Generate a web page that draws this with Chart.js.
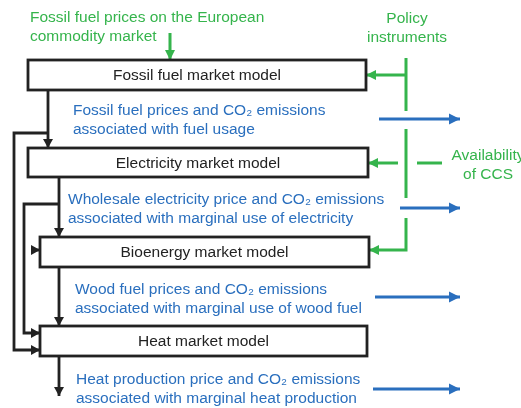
<!DOCTYPE html>
<html>
<head>
<meta charset="utf-8">
<script src="https://cdn.jsdelivr.net/npm/chart.js@4"></script>
<style>
  html, body { margin: 0; padding: 0; background: #fff; }
  #wrap { width: 521px; height: 408px; }
</style>
</head>
<body>
<div id="wrap"><canvas id="flow" width="521" height="408"></canvas></div>
<script>
// model boxes (diagram units = pixels of the original figure)
const boxLabels = ['Fossil fuel market model', 'Electricity market model', 'Bioenergy market model', 'Heat market model'];
const boxLeft = [28, 28, 40, 40];
const boxRight = [366, 368, 369, 367];
const boxTop = [60, 148, 237, 326];
const boxBottom = [90, 177, 267, 356];

// blue output texts and arrows
const flowLines1 = ['Fossil fuel prices and CO₂ emissions', 'Wholesale electricity price and CO₂ emissions', 'Wood fuel prices and CO₂ emissions', 'Heat production price and CO₂ emissions'];
const flowLines2 = ['associated with fuel usage', 'associated with marginal use of electricity', 'associated with marginal use of wood fuel', 'associated with marginal heat production'];
const flowTextX = [73, 68, 75, 76];
const flowTextY = [111, 200, 290, 380];
const outFromX = [379, 400, 375, 373];
const outToX = [460, 460, 460, 460];
const outY = [119, 208, 297, 389];

// green input labels
const inputLabels = [['Fossil fuel prices on the European', 'commodity market'], ['Policy', 'instruments'], ['Availability', 'of CCS']];
const inputLabelX = [30, 407, 488];
const inputLabelY = [18, 19, 156];
const inputAlign = ['left', 'center', 'center'];

// black connectors between models
const blackPaths = [
  [[48, 90], [48, 148]],
  [[48, 133], [14, 133], [14, 350], [40, 350]],
  [[59, 177], [59, 237]],
  [[59, 204], [24, 204], [24, 333], [40, 333]],
  [[59, 267], [59, 326]],
  [[59, 356], [59, 396]],
  [[31, 250], [40, 250]]
];
const blackArrow = [true, true, true, true, true, true, true];

// green input lines
const greenPaths = [
  [[170, 33], [170, 60]],
  [[406, 58], [406, 111]],
  [[406, 75], [366, 75]],
  [[406, 129], [406, 198]],
  [[398, 163], [368, 163]],
  [[417, 163], [442, 163]],
  [[406, 218], [406, 250], [369, 250]]
];
const greenArrow = [true, false, true, false, true, false, true];

const BLACK = '#222222';
const GREEN = '#35b44c';
const BLUE = '#2a6fbe';
const FONT = 'Arial, "Liberation Sans", sans-serif';

const datasets = [];
blackPaths.forEach((p, i) => datasets.push({
  data: p.map(q => ({ x: q[0], y: q[1] })), showLine: true, borderColor: BLACK, borderWidth: 2.8,
  pointRadius: 0, tension: 0, borderJoinStyle: 'miter', arrow: blackArrow[i], head: [9, 5]
}));
greenPaths.forEach((p, i) => datasets.push({
  data: p.map(q => ({ x: q[0], y: q[1] })), showLine: true, borderColor: GREEN, borderWidth: 3,
  pointRadius: 0, tension: 0, borderJoinStyle: 'miter', arrow: greenArrow[i], head: [10, 5]
}));
outY.forEach((y, i) => datasets.push({
  data: [{ x: outFromX[i], y: y }, { x: outToX[i], y: y }], showLine: true, borderColor: BLUE, borderWidth: 3,
  pointRadius: 0, tension: 0, arrow: true, head: [11, 5.5]
}));

const diagram = {
  id: 'diagram',
  beforeDatasetsDraw(chart) {
    const { ctx, scales: { x, y } } = chart;
    ctx.save();
    // box fills
    boxLabels.forEach((lab, i) => {
      const x0 = x.getPixelForValue(boxLeft[i]), x1 = x.getPixelForValue(boxRight[i]);
      const y0 = y.getPixelForValue(boxTop[i]), y1 = y.getPixelForValue(boxBottom[i]);
      ctx.fillStyle = '#fff';
      ctx.fillRect(x0, y0, x1 - x0, y1 - y0);
    });
    ctx.restore();
  },
  afterDatasetsDraw(chart) {
    const { ctx, scales: { x, y } } = chart;
    ctx.save();
    // arrowheads
    chart.data.datasets.forEach(ds => {
      if (!ds.arrow) return;
      const n = ds.data.length;
      const a = ds.data[n - 2], b = ds.data[n - 1];
      const ax = x.getPixelForValue(a.x), ay = y.getPixelForValue(a.y);
      const bx = x.getPixelForValue(b.x), by = y.getPixelForValue(b.y);
      const ang = Math.atan2(by - ay, bx - ax);
      const [len, half] = ds.head;
      ctx.fillStyle = ds.borderColor;
      ctx.beginPath();
      ctx.moveTo(bx, by);
      ctx.lineTo(bx - len * Math.cos(ang) + half * Math.sin(ang), by - len * Math.sin(ang) - half * Math.cos(ang));
      ctx.lineTo(bx - len * Math.cos(ang) - half * Math.sin(ang), by - len * Math.sin(ang) + half * Math.cos(ang));
      ctx.closePath();
      ctx.fill();
    });
    // box outlines and labels
    ctx.font = '15.5px ' + FONT;
    ctx.textBaseline = 'middle';
    boxLabels.forEach((lab, i) => {
      const x0 = x.getPixelForValue(boxLeft[i]), x1 = x.getPixelForValue(boxRight[i]);
      const y0 = y.getPixelForValue(boxTop[i]), y1 = y.getPixelForValue(boxBottom[i]);
      ctx.strokeStyle = BLACK;
      ctx.lineWidth = 2.8;
      ctx.strokeRect(x0, y0, x1 - x0, y1 - y0);
      ctx.fillStyle = BLACK;
      ctx.textAlign = 'center';
      ctx.fillText(lab, (x0 + x1) / 2, (y0 + y1) / 2 + 1);
    });
    // blue flow texts
    ctx.fillStyle = BLUE;
    ctx.textAlign = 'left';
    flowLines1.forEach((t, i) => {
      ctx.fillText(t, x.getPixelForValue(flowTextX[i]), y.getPixelForValue(flowTextY[i]));
      ctx.fillText(flowLines2[i], x.getPixelForValue(flowTextX[i]), y.getPixelForValue(flowTextY[i] + 18.5));
    });
    // green labels
    ctx.fillStyle = GREEN;
    inputLabels.forEach((lines, i) => {
      ctx.textAlign = inputAlign[i];
      lines.forEach((t, k) => {
        ctx.fillText(t, x.getPixelForValue(inputLabelX[i]), y.getPixelForValue(inputLabelY[i] + k * 18.5));
      });
    });
    ctx.restore();
  }
};

new Chart(document.getElementById('flow'), {
  type: 'scatter',
  data: { datasets },
  options: {
    responsive: false,
    animation: false,
    events: [],
    layout: { padding: 0 },
    plugins: { legend: { display: false }, tooltip: { enabled: false } },
    scales: {
      x: { type: 'linear', min: 0, max: 521, display: false },
      y: { type: 'linear', min: 0, max: 408, reverse: true, display: false }
    }
  },
  plugins: [diagram]
});
</script>
</body>
</html>
